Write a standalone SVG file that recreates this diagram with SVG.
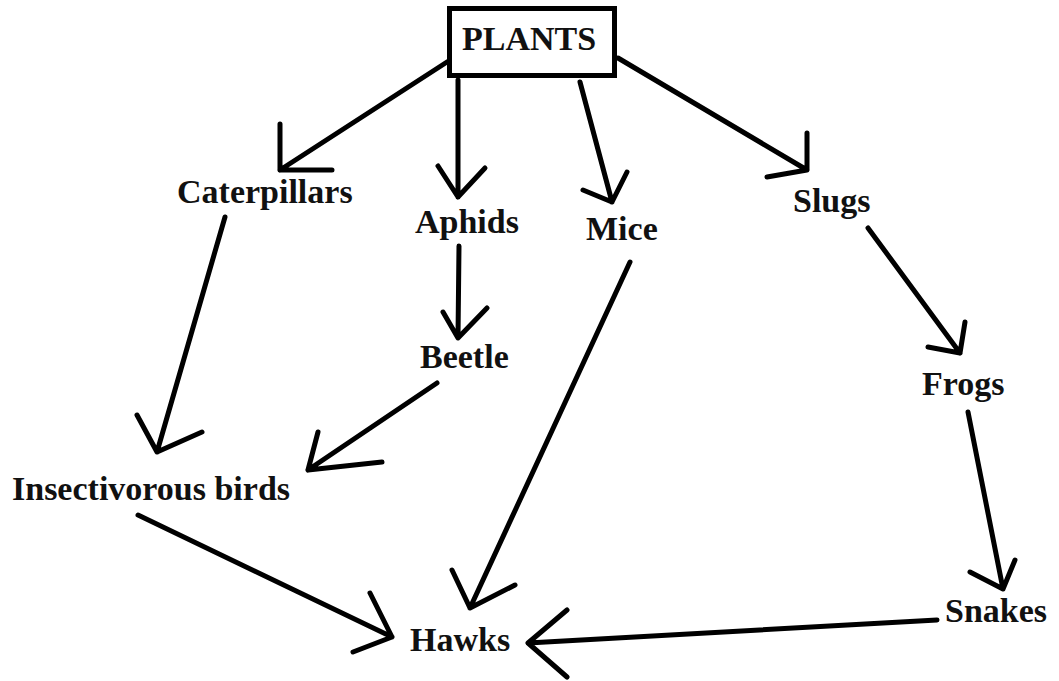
<svg xmlns="http://www.w3.org/2000/svg" width="1059" height="681" viewBox="0 0 1059 681">
<style>
.lbl{font-family:"Liberation Serif","Times New Roman",serif;font-weight:bold;font-size:34px;fill:#111}
.ln{fill:none;stroke:#000;stroke-width:5;stroke-linecap:round;stroke-linejoin:round}
</style>
<rect width="1059" height="681" fill="#fff"/>
<g id="connectors">
<path class="ln" d="M447,62 L280,170 M280,124 L280,170 L332,170"/>
<path class="ln" d="M458,80 L458,197 M438,166 L458,197 L485,168"/>
<path class="ln" d="M580,82 L612,202 M583,190 L612,202 L627,172"/>
<path class="ln" d="M618,58 L807,170 M807,133 L807,170 L767,177"/>
<path class="ln" d="M225,217 L157,452 M137,415 L157,452 L202,432"/>
<path class="ln" d="M459,246 L458,338 M443,312 L458,338 L487,308"/>
<path class="ln" d="M437,383 L308,470 M318,432 L308,470 L382,462"/>
<path class="ln" d="M630,262 L470,608 M452,570 L470,608 L515,585"/>
<path class="ln" d="M868,228 L960,353 M965,322 L960,353 L928,347"/>
<path class="ln" d="M968,412 L1003,589 M970,572 L1003,589 L1015,560"/>
<path class="ln" d="M138,515 L392,637 M370,593 L392,637 L353,652"/>
<path class="ln" d="M937,620 L528,643 M567,610 L528,643 L567,677"/>
</g>
<g id="plants">
<rect x="449.5" y="8.5" width="165" height="67" fill="#fff" stroke="#000" stroke-width="5"/>
<text class="lbl" x="462" y="50">PLANTS</text>
</g>
<g id="caterpillars"><text class="lbl" x="177" y="203">Caterpillars</text></g>
<g id="aphids"><text class="lbl" x="415" y="233">Aphids</text></g>
<g id="mice"><text class="lbl" x="586" y="240">Mice</text></g>
<g id="slugs"><text class="lbl" x="793" y="212">Slugs</text></g>
<g id="beetle"><text class="lbl" x="420" y="368">Beetle</text></g>
<g id="frogs"><text class="lbl" x="922" y="395">Frogs</text></g>
<g id="insectivorous-birds"><text class="lbl" x="12" y="500">Insectivorous birds</text></g>
<g id="hawks"><text class="lbl" x="410" y="651">Hawks</text></g>
<g id="snakes"><text class="lbl" x="945" y="622">Snakes</text></g>
</svg>
